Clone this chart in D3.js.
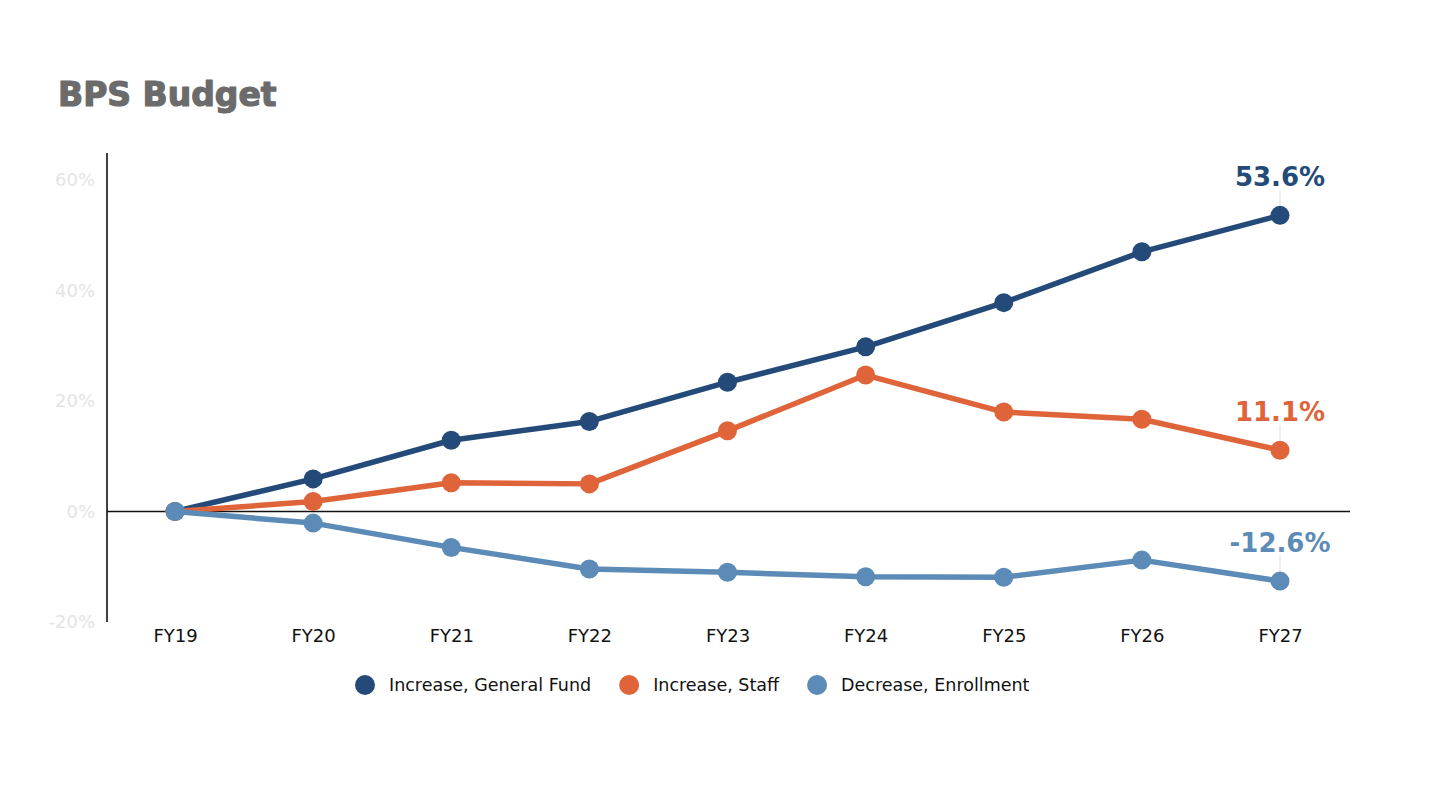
<!DOCTYPE html>
<html>
<head>
<meta charset="utf-8">
<script src="https://cdn.jsdelivr.net/npm/d3@7/dist/d3.min.js"></script>
<style>
  html, body { margin: 0; padding: 0; background: #ffffff; }
  svg { display: block; }
</style>
</head>
<body>
<svg id="chart" width="1456" height="794"></svg>
<script>
// ---- Data ----
const categories = ["FY19", "FY20", "FY21", "FY22", "FY23", "FY24", "FY25", "FY26", "FY27"];
const generalFund = [0, 5.9, 12.9, 16.3, 23.4, 29.8, 37.8, 47.0, 53.6];
const staff       = [0, 1.8, 5.2, 5.0, 14.6, 24.7, 18.0, 16.7, 11.1];
const enrollment  = [0, -2.1, -6.5, -10.4, -11.0, -11.8, -11.9, -8.8, -12.6];
const seriesNames = ["Increase, General Fund", "Increase, Staff", "Decrease, Enrollment"];
const yTicks = [-20, 0, 20, 40, 60];
const titleText = "BPS Budget";

const colors = ["#234a78", "#e0643a", "#5b8bb6"];
const seriesValues = [generalFund, staff, enrollment];

const svg = d3.select("#chart");

const x = d3.scalePoint().domain(categories).range([175, 1280]);
const y = d3.scaleLinear().domain([-20, 60]).range([622, 180]);

// Title
svg.append("text")
  .attr("x", 58).attr("y", 106)
  .attr("font-family", "'DejaVu Sans', sans-serif")
  .attr("font-weight", "bold")
  .attr("font-size", 33)
  .attr("fill", "#6b6b6b")
  .attr("stroke", "#6b6b6b")
  .attr("stroke-width", 1.2)
  .attr("stroke-linejoin", "round")
  .text(titleText);

// Y axis (labels only, very light)
const yAxis = d3.axisLeft(y).tickValues(yTicks).tickSize(0).tickPadding(12)
  .tickFormat(d => d + "%");
const gy = svg.append("g").attr("transform", "translate(107,0)").call(yAxis);
gy.select(".domain").remove();
gy.selectAll("text")
  .attr("font-family", "'DejaVu Sans', sans-serif")
  .attr("font-size", 18)
  .attr("fill", "#e4e4e4");

// Vertical axis line
svg.append("line")
  .attr("x1", 107).attr("x2", 107)
  .attr("y1", 153).attr("y2", 622)
  .attr("stroke", "#111").attr("stroke-width", 1.6);

// Zero line
svg.append("line")
  .attr("x1", 107).attr("x2", 1350)
  .attr("y1", y(0)).attr("y2", y(0))
  .attr("stroke", "#111").attr("stroke-width", 1.3);

// X axis labels
const xAxis = d3.axisBottom(x).tickSize(0).tickPadding(0);
const gx = svg.append("g").attr("transform", "translate(0,629)").call(xAxis);
gx.select(".domain").remove();
gx.selectAll("text")
  .attr("font-family", "'DejaVu Sans', sans-serif")
  .attr("font-size", 18)
  .attr("fill", "#111")
  .attr("dy", "0.71em");

// Lines and dots
const line = d3.line().x((d, i) => x(categories[i])).y(d => y(d));

seriesValues.forEach((vals, si) => {
  const g = svg.append("g");
  g.append("path")
    .datum(vals)
    .attr("d", line)
    .attr("fill", "none")
    .attr("stroke", colors[si])
    .attr("stroke-width", 5.5)
    .attr("stroke-linejoin", "round");
  g.selectAll("circle")
    .data(vals)
    .join("circle")
    .attr("cx", (d, i) => x(categories[i]))
    .attr("cy", d => y(d))
    .attr("r", 9.5)
    .attr("fill", colors[si]);
});

// End labels with leader lines
const fmt = v => (v < 0 ? "-" : "") + Math.abs(v).toFixed(1) + "%";
seriesValues.forEach((vals, si) => {
  const last = vals[vals.length - 1];
  const cx = x(categories[categories.length - 1]);
  const cy = y(last);
  svg.append("line")
    .attr("x1", cx).attr("x2", cx)
    .attr("y1", cy - 25).attr("y2", cy - 10)
    .attr("stroke", "#dddddd").attr("stroke-width", 1);
  svg.append("text")
    .attr("x", cx).attr("y", cy - 29)
    .attr("text-anchor", "middle")
    .attr("font-family", "'DejaVu Sans', sans-serif")
    .attr("font-weight", "bold")
    .attr("font-size", 26)
    .attr("fill", colors[si])
    .text(fmt(last));
});

// Legend
const legend = svg.append("g");
let lx = 365;
const ly = 685;
seriesNames.forEach((name, si) => {
  legend.append("circle")
    .attr("cx", lx).attr("cy", ly).attr("r", 10)
    .attr("fill", colors[si]);
  const t = legend.append("text")
    .attr("x", lx + 24).attr("y", ly)
    .attr("dy", "0.35em")
    .attr("font-family", "'DejaVu Sans', sans-serif")
    .attr("font-size", 17.5)
    .attr("fill", "#111")
    .text(name);
  const w = t.node().getComputedTextLength();
  lx = lx + 24 + w + 38;
});
</script>
</body>
</html>
